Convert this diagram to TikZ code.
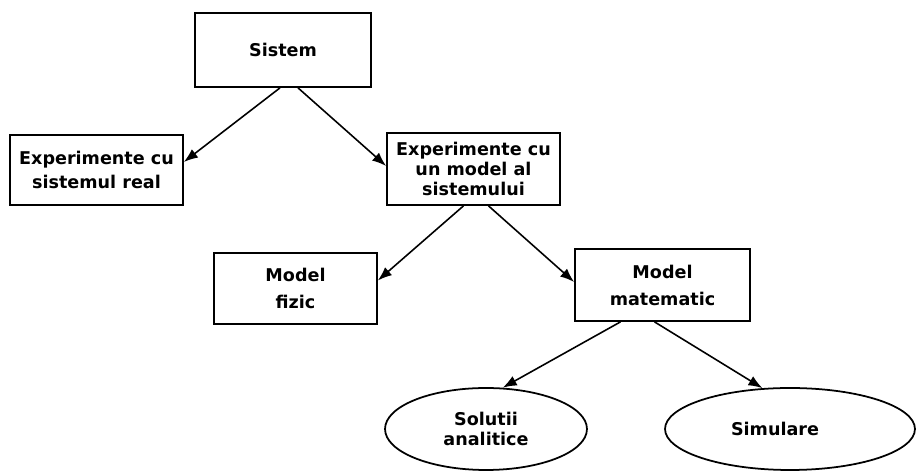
\documentclass[tikz,border=0pt]{standalone}
\usepackage{fontspec}
\setsansfont{DejaVu Sans}
\usepackage{tikz}
\usetikzlibrary{arrows.meta, positioning, shapes.geometric, calc}

\begin{document}
\begin{tikzpicture}[x=0.02cm, y=-0.02cm,
    txt/.style={font=\sffamily\bfseries\fontsize{10}{11.4}\selectfont, align=center},
    box/.style={txt, draw, line width=1pt, rectangle, inner sep=0pt},
    oval/.style={txt, draw, line width=1pt, ellipse, inner sep=0pt},
    arrow/.style={line width=0.9pt, -{Latex[length=8pt, width=6pt]}}]
  \useasboundingbox (0,0) rectangle (917,472);

  % Top level: the system and the two ways to experiment
  \node[box, minimum width=3.52cm, minimum height=1.48cm] (sis) at (283,50) {Sistem};
  \node[box, minimum width=3.46cm, minimum height=1.40cm] (real) at (96.5,170) {Experimente cu\\[1.8pt]sistemul real};
  \node[box, minimum width=3.46cm, minimum height=1.44cm] (mod) at (473.5,169) {Experimente cu\\un model al\\sistemului};

  % Kinds of model
  \node[box, minimum width=3.26cm, minimum height=1.42cm] (fiz) at (295.5,288.5) {Model\\[4pt]fizic};
  \node[box, minimum width=3.50cm, minimum height=1.44cm] (mat) at (662.5,285) {Model\\[4pt]matematic};

  % Ways to solve the mathematical model
  \node[oval, minimum width=4.04cm, minimum height=1.64cm] (sol) at (486,429) {Solutii\\analitice};
  \node[oval, minimum width=5.00cm, minimum height=1.64cm] (sim) at (790,429) {\hspace*{-0.6cm}Simulare};

  % Connectors
  \draw[arrow] ($(sis.south)+(-3,0)$) -- ($(real.east)+(0,-8)$);
  \draw[arrow] ($(sis.south)+(15,0)$) -- ($(mod.west)+(0,-3)$);
  \draw[arrow] ($(mod.south)+(-10,0)$) -- ($(fiz.east)+(0,-8)$);
  \draw[arrow] ($(mod.south)+(15,0)$) -- ($(mat.west)+(0,-3)$);
  \draw[arrow] ($(mat.south)+(-42,0)$) -- (sol.68);
  \draw[arrow] ($(mat.south)+(-8,0)$) -- (sim.124);
\end{tikzpicture}
\end{document}
